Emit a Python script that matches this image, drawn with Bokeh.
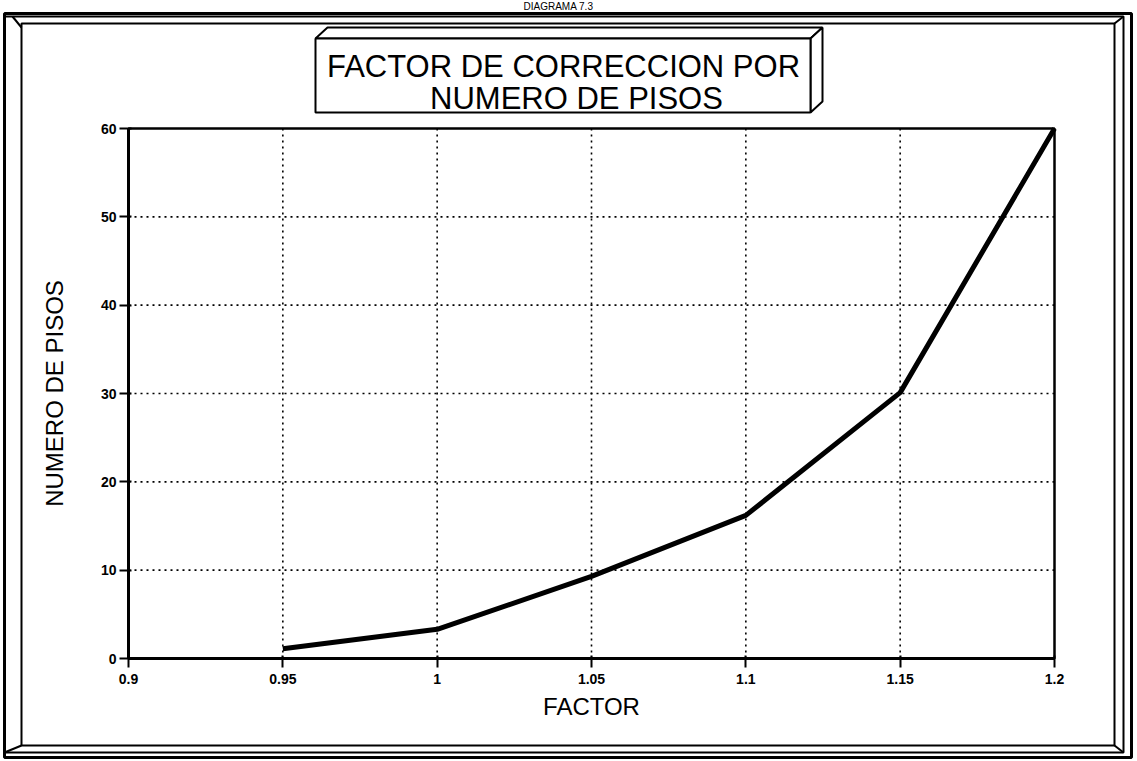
from bokeh.plotting import figure
from bokeh.models import Range1d, FixedTicker, PolyAnnotation, Label
from bokeh.embed import file_html
from bokeh.resources import INLINE

# ---- data ----
factor = [0.95, 1.0, 1.05, 1.1, 1.15, 1.2]
pisos = [1.1, 3.3, 9.3, 16.2, 30.1, 60.0]

x_ticks = [0.9, 0.95, 1.0, 1.05, 1.1, 1.15, 1.2]
x_tick_labels = ["0.9", "0.95", "1", "1.05", "1.1", "1.15", "1.2"]
y_ticks = [0, 10, 20, 30, 40, 50, 60]
y_tick_labels = ["0", "10", "20", "30", "40", "50", "60"]

header_text = "DIAGRAMA 7.3"
title_line1 = "FACTOR DE CORRECCION POR"
title_line2 = "NUMERO DE PISOS"
x_title = "FACTOR"
y_title = "NUMERO DE PISOS"

FONT = "Liberation Sans"

# ---- layout (canvas pixels) ----
W, H = 1135, 759
PL, PR, PT, PB = 128, 1054, 128, 658          # data area in canvas pixels
x0, x1 = x_ticks[0], x_ticks[-1]
y0, y1 = y_ticks[0], y_ticks[-1]
sx = (PR - PL) / (x1 - x0)
sy = (PB - PT) / (y1 - y0)
x_range = Range1d(x0 - PL / sx, x1 + (W - PR) / sx)
y_range = Range1d(y0 - (H - PB) / sy, y1 + PT / sy)

p = figure(width=W, height=H, output_backend="svg", toolbar_location=None,
           x_range=x_range, y_range=y_range, min_border=0)
p.background_fill_color = "white"
p.border_fill_color = "white"
p.outline_line_color = None
p.xgrid.visible = False
p.ygrid.visible = False

# axes fixed at the data-area edges
p.xaxis.fixed_location = y0
p.yaxis.fixed_location = x0
p.xaxis.bounds = (x0, x1)
p.yaxis.bounds = (y0, y1)
p.xaxis.ticker = FixedTicker(ticks=x_ticks)
p.yaxis.ticker = FixedTicker(ticks=y_ticks)
p.xaxis.major_label_overrides = {t: l for t, l in zip(x_ticks, x_tick_labels)}
p.yaxis.major_label_overrides = {t: l for t, l in zip(y_ticks, y_tick_labels)}

# dotted grid and data-area box, drawn from the tick lists
gx = x_ticks[1:-1]
gy = y_ticks[1:-1]
p.segment(x0=gx, y0=[y0] * len(gx), x1=gx, y1=[y1] * len(gx),
          line_color="black", line_width=1.6, line_dash="2 4")
p.segment(x0=[x0] * len(gy), y0=gy, x1=[x1] * len(gy), y1=gy,
          line_color="black", line_width=1.6, line_dash="2 4")
p.quad(left=[x0], right=[x1], bottom=[y0], top=[y1],
       fill_color=None, line_color="black", line_width=2.5)

for ax in (p.xaxis, p.yaxis):
    ax.axis_line_width = 3
    ax.axis_line_color = "black"
    ax.major_tick_line_width = 2
    ax.major_tick_line_color = "black"
    ax.major_tick_out = 9
    ax.major_tick_in = 3
    ax.minor_tick_line_color = None
    ax.major_label_text_font = FONT
    ax.major_label_text_font_style = "bold"
    ax.major_label_text_font_size = "14px"
    ax.major_label_text_color = "black"
    ax.axis_label_text_font = FONT
    ax.axis_label_text_font_style = "normal"
    ax.axis_label_text_color = "black"
    ax.axis_label_text_font_size = "24px"
p.xaxis.major_label_standoff = 6
p.yaxis.major_label_standoff = 3
p.xaxis.axis_label = x_title
p.xaxis.axis_label_standoff = 6
p.yaxis.axis_label = y_title
p.yaxis.axis_label_standoff = 30

# curve
p.line(factor, pisos, line_width=5, line_color="black")

# ---- decorative frame (canvas pixel units) ----
def poly(xs, ys, width=2, fill=None):
    p.add_layout(PolyAnnotation(xs=xs, ys=ys, xs_units="canvas", ys_units="canvas",
                                line_color="black", line_alpha=1.0, line_width=width,
                                fill_color=fill if fill else "white",
                                fill_alpha=1.0 if fill else 0.0))

def seg(xa, ya, xb, yb, width=2):
    poly([xa, xb], [ya, yb], width=width)

# outer shadow rectangle, bevel rim, inner panel
OL, OT, OR, OB = 4, 13, 1131, 757
RL, RT, RR, RB = 4, 16, 1123, 752
IL, IT, IR, IB = 21, 23, 1114, 745
poly([OL, OR, OR, OL], [OT, OT, OB, OB], width=3)
poly([RL, RR, RR, RL], [RT, RT, RB, RB], width=2)
poly([IL, IR, IR, IL], [IT, IT, IB, IB], width=2)
seg(RL + 8, RT, IL, IT + 4)
seg(RR, RT, IR, IT)
seg(RR, RB, IR, IB)
seg(RL, RB, IL, IB)

# 3D title box
FL, FT, FR, FB = 315, 38, 810, 112
DX, DY = 12, -11
poly([FL, FL + DX, FR + DX, FR], [FT, FT + DY, FT + DY, FT], width=2, fill="white")
poly([FR, FR + DX, FR + DX, FR], [FT, FT + DY, FB + DY, FB], width=2, fill="white")
poly([FL, FR, FR, FL], [FT, FT, FB, FB], width=2, fill="white")

p.add_layout(Label(x=563, y=66, x_units="canvas", y_units="canvas", text=title_line1,
                   text_align="center", text_baseline="middle",
                   text_font=FONT, text_font_size="31px", text_color="black"))
p.add_layout(Label(x=576, y=98, x_units="canvas", y_units="canvas", text=title_line2,
                   text_align="center", text_baseline="middle",
                   text_font=FONT, text_font_size="31px", text_color="black"))
p.add_layout(Label(x=558, y=0, x_units="canvas", y_units="canvas", text=header_text,
                   text_align="center", text_baseline="top",
                   text_font=FONT, text_font_size="10px", text_color="black"))

open("out.html", "w").write(file_html(p, INLINE))
